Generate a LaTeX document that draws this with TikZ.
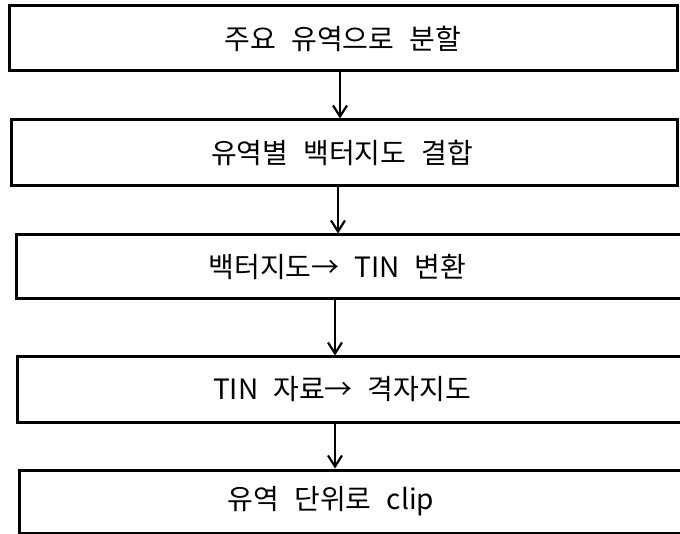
\documentclass[tikz,border=0pt]{standalone}
\usepackage{fontspec}
\setmainfont[WordSpace=2.4]{Noto Sans CJK KR}
\usetikzlibrary{arrows.meta}
\tikzset{
  stepbox/.style={draw, line width=3pt, inner sep=0pt, font=\fontsize{28}{32}\selectfont},
  flowarr/.style={line width=2.2pt, -{Straight Barb[length=11pt,width=14pt,line width=2.2pt]}}
}
\begin{document}
\begin{tikzpicture}[x=1pt,y=-1pt]
\useasboundingbox (0,0) rectangle (680,534);
\clip (0,0) rectangle (680,534);
\node[stepbox, minimum width=668pt, minimum height=65pt] (b1) at (343,38.5) {주요 유역으로 분할};
\node[stepbox, minimum width=666pt, minimum height=66pt] (b2) at (344,153) {유역별 백터지도 결합\hspace*{4pt}};
\node[stepbox, minimum width=666pt, minimum height=64pt] (b3) at (349,267) {백터지도→ TIN 변환\hspace*{23pt}};
\node[stepbox, minimum width=665pt, minimum height=65pt] (b4) at (349.5,389.5) {TIN 자료→ 격자지도\hspace*{15pt}};
\node[stepbox, minimum width=663pt, minimum height=63pt] (b5) at (350.5,501.5) {유역 단위로 clip\hspace*{39pt}};
\draw[flowarr] (b1.south -| 340,0) -- (b2.north -| 340,0);
\draw[flowarr] (b2.south -| 338,0) -- (b3.north -| 338,0);
\draw[flowarr] (b3.south -| 335,0) -- (b4.north -| 335,0);
\draw[flowarr] (b4.south -| 335,0) -- (b5.north -| 335,0);
\end{tikzpicture}
\end{document}
